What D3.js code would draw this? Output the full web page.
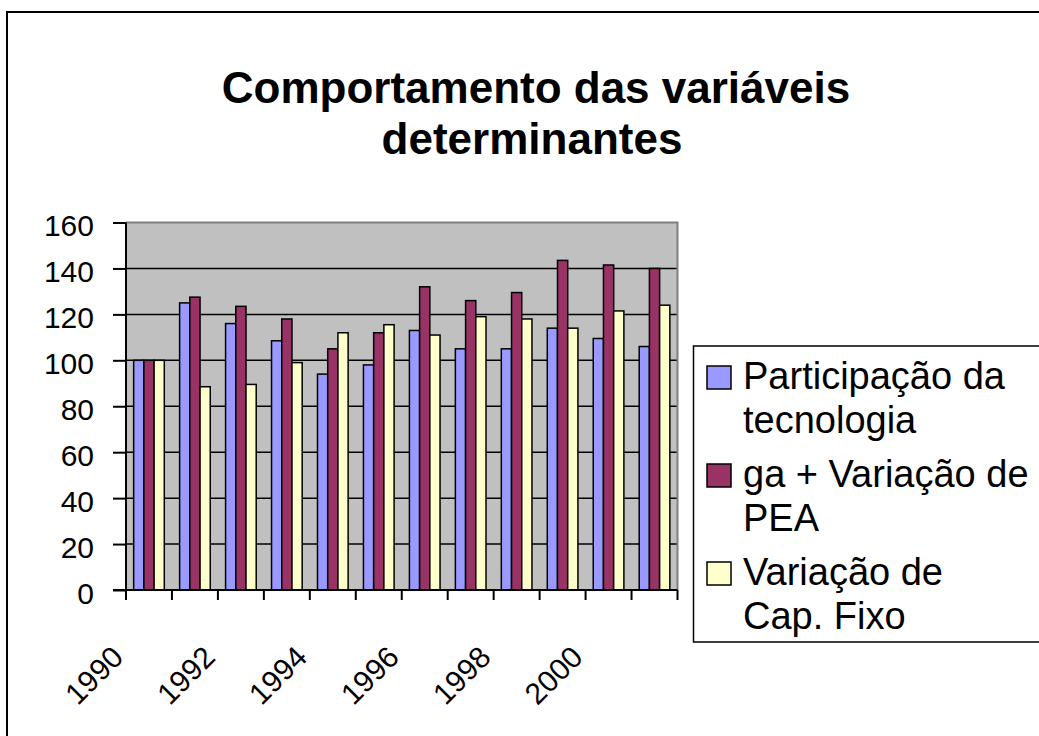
<!DOCTYPE html>
<html>
<head>
<meta charset="utf-8">
<script src="https://cdn.jsdelivr.net/npm/d3@7"></script>
<style>
  body { margin: 0; background: #fff; }
  text { font-family: "Liberation Sans", Arial, sans-serif; fill: #000; }
</style>
</head>
<body>
<script>
// data
var years = [1990, 1991, 1992, 1993, 1994, 1995, 1996, 1997, 1998, 1999, 2000, 2001];
var tecnologia = [100, 125, 116, 108.5, 94, 98, 113, 105, 105, 114, 109.5, 106];
var pea = [100, 127.5, 123.5, 118, 105, 112, 132, 126, 129.5, 143.5, 141.5, 140];
var capFixo = [100, 88.5, 89.5, 99, 112, 115.5, 111, 119, 118, 114, 121.5, 124];
var yTicks = [0, 20, 40, 60, 80, 100, 120, 140, 160];
var xLabels = [1990, 1992, 1994, 1996, 1998, 2000];
var seriesNames = ["Participação da|tecnologia", "ga + Variação de|PEA", "Variação de|Cap. Fixo"];
var seriesColors = ["#9999ff", "#993366", "#ffffcc"];

var width = 1039, height = 736;
var plot = {left: 126, right: 677.5, top: 222.5, bottom: 590};

var svg = d3.select("body").append("svg")
    .attr("width", width)
    .attr("height", height);

// outer chart frame
svg.append("rect")
    .attr("x", 7).attr("y", 12)
    .attr("width", 1060).attr("height", 760)
    .attr("fill", "#fff")
    .attr("stroke", "#000")
    .attr("stroke-width", 2);

// title
svg.append("text")
    .attr("x", 536).attr("y", 103)
    .attr("text-anchor", "middle")
    .style("font-size", "44px").style("font-weight", "bold")
    .text("Comportamento das variáveis");
svg.append("text")
    .attr("x", 532).attr("y", 154)
    .attr("text-anchor", "middle")
    .style("font-size", "44px").style("font-weight", "bold")
    .text("determinantes");

// scales
var x = d3.scaleBand().domain(years).range([plot.left, plot.right]);
var bw = x.bandwidth() / 4.5;
var xs = d3.scaleBand().domain([0, 1, 2]).range([bw * 0.75, bw * 3.75]);
var y = d3.scaleLinear().domain([0, 160]).range([plot.bottom, plot.top]);

// plot background
svg.append("rect")
    .attr("x", plot.left).attr("y", plot.top)
    .attr("width", plot.right - plot.left)
    .attr("height", plot.bottom - plot.top)
    .attr("fill", "#c0c0c0");

// gridlines
svg.append("g")
    .selectAll("line")
    .data(yTicks.filter(function(d) { return d > 0 && d < 160; }))
    .enter().append("line")
    .attr("x1", plot.left).attr("x2", plot.right)
    .attr("y1", function(d) { return y(d); })
    .attr("y2", function(d) { return y(d); })
    .attr("stroke", "#000")
    .attr("stroke-width", 1.5);

// plot border (top and right)
svg.append("path")
    .attr("d", "M" + plot.left + "," + plot.top + "H" + plot.right + "V" + plot.bottom)
    .attr("fill", "none")
    .attr("stroke", "#808080")
    .attr("stroke-width", 2);

// bars
var series = [tecnologia, pea, capFixo];
series.forEach(function(vals, s) {
  svg.append("g")
    .selectAll("rect")
    .data(vals)
    .enter().append("rect")
    .attr("x", function(d, i) { return x(years[i]) + xs(s); })
    .attr("y", function(d) { return y(d); })
    .attr("width", xs.bandwidth())
    .attr("height", function(d) { return y(0) - y(d); })
    .attr("fill", seriesColors[s])
    .attr("stroke", "#000")
    .attr("stroke-width", 1.5);
});

// y axis
var yAxis = svg.append("g")
    .attr("transform", "translate(" + plot.left + ",0)")
    .call(d3.axisLeft(y).tickValues(yTicks).tickSize(13).tickPadding(19));
yAxis.select(".domain").attr("stroke", "#000").attr("stroke-width", 2)
    .attr("d", "M0," + plot.top + "V" + plot.bottom);
yAxis.selectAll(".tick line").attr("stroke", "#000").attr("stroke-width", 2);
yAxis.selectAll(".tick text")
    .attr("dy", "0.44em")
    .style("font-size", "30px")
    .style("font-family", "'Liberation Sans', Arial, sans-serif");

// x axis line and ticks at category boundaries
svg.append("line")
    .attr("x1", plot.left - 13).attr("x2", plot.right)
    .attr("y1", plot.bottom).attr("y2", plot.bottom)
    .attr("stroke", "#000").attr("stroke-width", 2);
svg.append("g")
    .selectAll("line")
    .data(years.concat([null]))
    .enter().append("line")
    .attr("x1", function(d, i) { return plot.left + i * x.step(); })
    .attr("x2", function(d, i) { return plot.left + i * x.step(); })
    .attr("y1", plot.bottom).attr("y2", plot.bottom + 10)
    .attr("stroke", "#000").attr("stroke-width", 2);

// rotated x labels
svg.append("g")
    .selectAll("text")
    .data(xLabels)
    .enter().append("text")
    .attr("text-anchor", "end")
    .attr("transform", function(d) {
      var cx = x(d) + x.bandwidth() / 2;
      return "translate(" + (cx - 24) + "," + 659 + ") rotate(-45)";
    })
    .style("font-size", "30px")
    .text(function(d) { return d; });

// legend
var legend = svg.append("g");
legend.append("rect")
    .attr("x", 693.5).attr("y", 346)
    .attr("width", 400).attr("height", 296)
    .attr("fill", "#fff")
    .attr("stroke", "#000")
    .attr("stroke-width", 1.5);

var items = legend.selectAll("g.item")
    .data(seriesNames)
    .enter().append("g")
    .attr("class", "item")
    .attr("transform", function(d, i) { return "translate(707," + (389 + i * 98) + ")"; });
items.append("rect")
    .attr("x", 0).attr("y", -23)
    .attr("width", 24).attr("height", 23)
    .attr("fill", function(d, i) { return seriesColors[i]; })
    .attr("stroke", "#000")
    .attr("stroke-width", 1.5);
items.append("text")
    .style("font-size", "38px")
    .selectAll("tspan")
    .data(function(d) { return d.split("|"); })
    .enter().append("tspan")
    .attr("x", 36)
    .attr("y", function(d, i) { return i * 44; })
    .text(function(d) { return d; });
</script>
</body>
</html>
